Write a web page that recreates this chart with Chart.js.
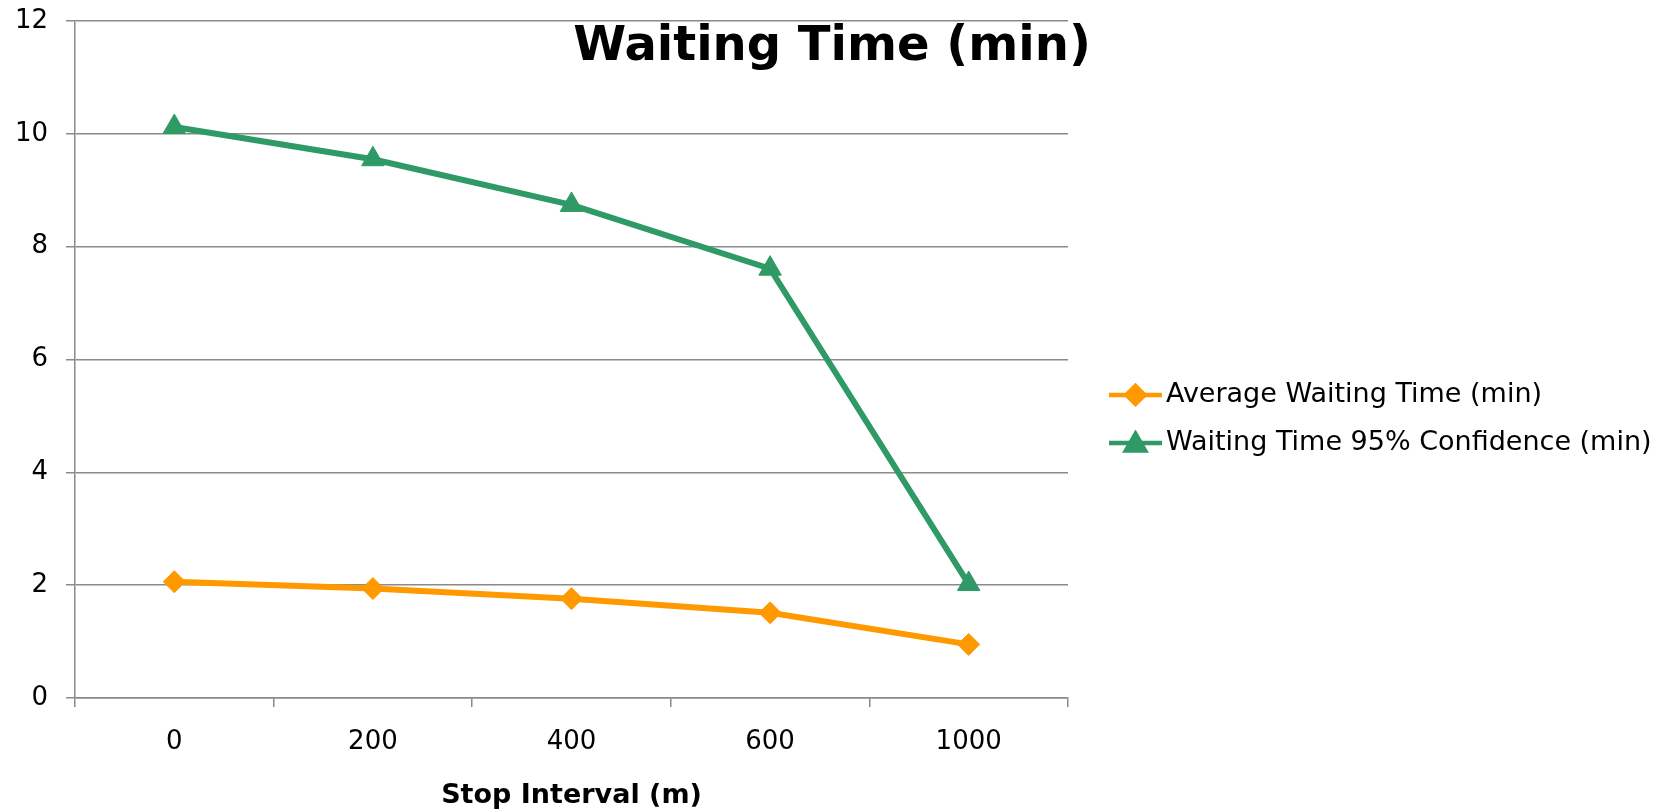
<!DOCTYPE html>
<html>
<head>
<meta charset="utf-8">
<script src="https://cdn.jsdelivr.net/npm/chart.js@4/dist/chart.umd.min.js"></script>
<style>
  html, body { margin: 0; padding: 0; background: #ffffff; }
  #wrap { width: 1664px; height: 810px; }
</style>
</head>
<body>
<div id="wrap"><canvas id="chart" width="1664" height="810"></canvas></div>
<script>
// Stop interval categories (m) and the two waiting-time series (min)
const stopIntervals = ['0', '200', '400', '600', '1000'];
const averageWaiting = [2.06, 1.94, 1.76, 1.51, 0.95];
const confidenceWaiting = [10.12, 9.55, 8.74, 7.61, 2.02];
const yTicks = [0, 2, 4, 6, 8, 10, 12];

const chartTitle = 'Waiting Time (min)';
const xAxisTitle = 'Stop Interval (m)';
const seriesNames = ['Average Waiting Time (min)', 'Waiting Time 95% Confidence (min)'];

const ORANGE = '#FF9900';
const GREEN = '#2F9A66';
const GRID = '#8a8a8a';
const FONT = "'DejaVu Sans', Verdana, sans-serif";

// Title drawn over the top of the plot area, centred on the canvas
const titlePlugin = {
  id: 'overlayTitle',
  afterDraw(chart) {
    const ctx = chart.ctx;
    ctx.save();
    ctx.font = 'bold 48px ' + FONT;
    ctx.fillStyle = '#000';
    ctx.textAlign = 'center';
    ctx.textBaseline = 'alphabetic';
    ctx.fillText(chartTitle, chart.width / 2, chart.chartArea.top + 39);
    ctx.restore();
  }
};

// Legend with a line sample and the series marker, right of the plot
const legendPlugin = {
  id: 'lineLegend',
  afterDraw(chart) {
    const ctx = chart.ctx;
    const x0 = chart.chartArea.right + 41;
    const lineLen = 53;
    const rowGap = 48;
    const yStart = chart.height * 0.4875;
    ctx.save();
    chart.data.datasets.forEach((ds, i) => {
      const y = yStart + i * rowGap;
      ctx.strokeStyle = ds.borderColor;
      ctx.lineWidth = 4.5;
      ctx.beginPath();
      ctx.moveTo(x0, y);
      ctx.lineTo(x0 + lineLen, y);
      ctx.stroke();
      const tri = ds.pointStyle === 'triangle';
      Chart.helpers.drawPoint(ctx, {
        pointStyle: ds.pointStyle,
        radius: tri ? 11 : 9,
        rotation: 0,
        borderWidth: 1
      }, x0 + lineLen / 2, y + (tri ? 2 : 0));
      ctx.fillStyle = ds.pointBackgroundColor;
      ctx.fill();
      ctx.fillStyle = '#000';
      ctx.font = '27px ' + FONT;
      ctx.textAlign = 'left';
      ctx.textBaseline = 'middle';
      ctx.fillText(ds.label, x0 + lineLen + 4, y);
    });
    ctx.restore();
  }
};

new Chart(document.getElementById('chart'), {
  type: 'line',
  data: {
    labels: stopIntervals,
    datasets: [
      {
        label: seriesNames[0],
        data: averageWaiting,
        borderColor: ORANGE,
        backgroundColor: ORANGE,
        pointBackgroundColor: ORANGE,
        pointBorderColor: ORANGE,
        borderWidth: 6,
        pointStyle: 'rectRot',
        pointRadius: 11,
        pointBorderWidth: 1,
        tension: 0,
        clip: false
      },
      {
        label: seriesNames[1],
        data: confidenceWaiting,
        borderColor: GREEN,
        backgroundColor: GREEN,
        pointBackgroundColor: GREEN,
        pointBorderColor: GREEN,
        borderWidth: 6,
        pointStyle: 'triangle',
        pointRadius: 13,
        pointBorderWidth: 1,
        tension: 0,
        clip: false
      }
    ]
  },
  options: {
    responsive: false,
    animation: false,
    layout: { autoPadding: false, padding: { left: 0, top: 21, right: 596, bottom: -2 } },
    plugins: {
      legend: { display: false },
      title: { display: false },
      tooltip: { enabled: false }
    },
    scales: {
      x: {
        type: 'category',
        offset: true,
        grid: {
          offset: true,
          drawOnChartArea: false,
          drawTicks: true,
          tickLength: 9,
          color: GRID,
          lineWidth: 1.5
        },
        border: { display: true, color: GRID, width: 1.5 },
        ticks: {
          color: '#000',
          font: { family: FONT, size: 26 },
          padding: 20,
          maxRotation: 0
        },
        title: {
          display: true,
          text: xAxisTitle,
          color: '#000',
          font: { family: FONT, size: 27, weight: 'bold' },
          padding: { top: 14, bottom: 0 }
        },
        afterFit(scale) {
          scale.height = 114;
          scale.paddingLeft = 0;
          scale.paddingRight = 0;
        }
      },
      y: {
        min: yTicks[0],
        max: yTicks[yTicks.length - 1],
        afterBuildTicks(scale) { scale.ticks = yTicks.map(v => ({ value: v })); },
        grid: {
          color: GRID,
          lineWidth: 1.5,
          tickLength: 9,
          drawTicks: true
        },
        border: { display: true, color: GRID, width: 1.5 },
        ticks: {
          color: '#000',
          font: { family: FONT, size: 26 },
          padding: 18
        },
        afterFit(scale) {
          scale.width = 75;
          scale.paddingTop = 0;
          scale.paddingBottom = 0;
        }
      }
    }
  },
  plugins: [titlePlugin, legendPlugin]
});
</script>
</body>
</html>
